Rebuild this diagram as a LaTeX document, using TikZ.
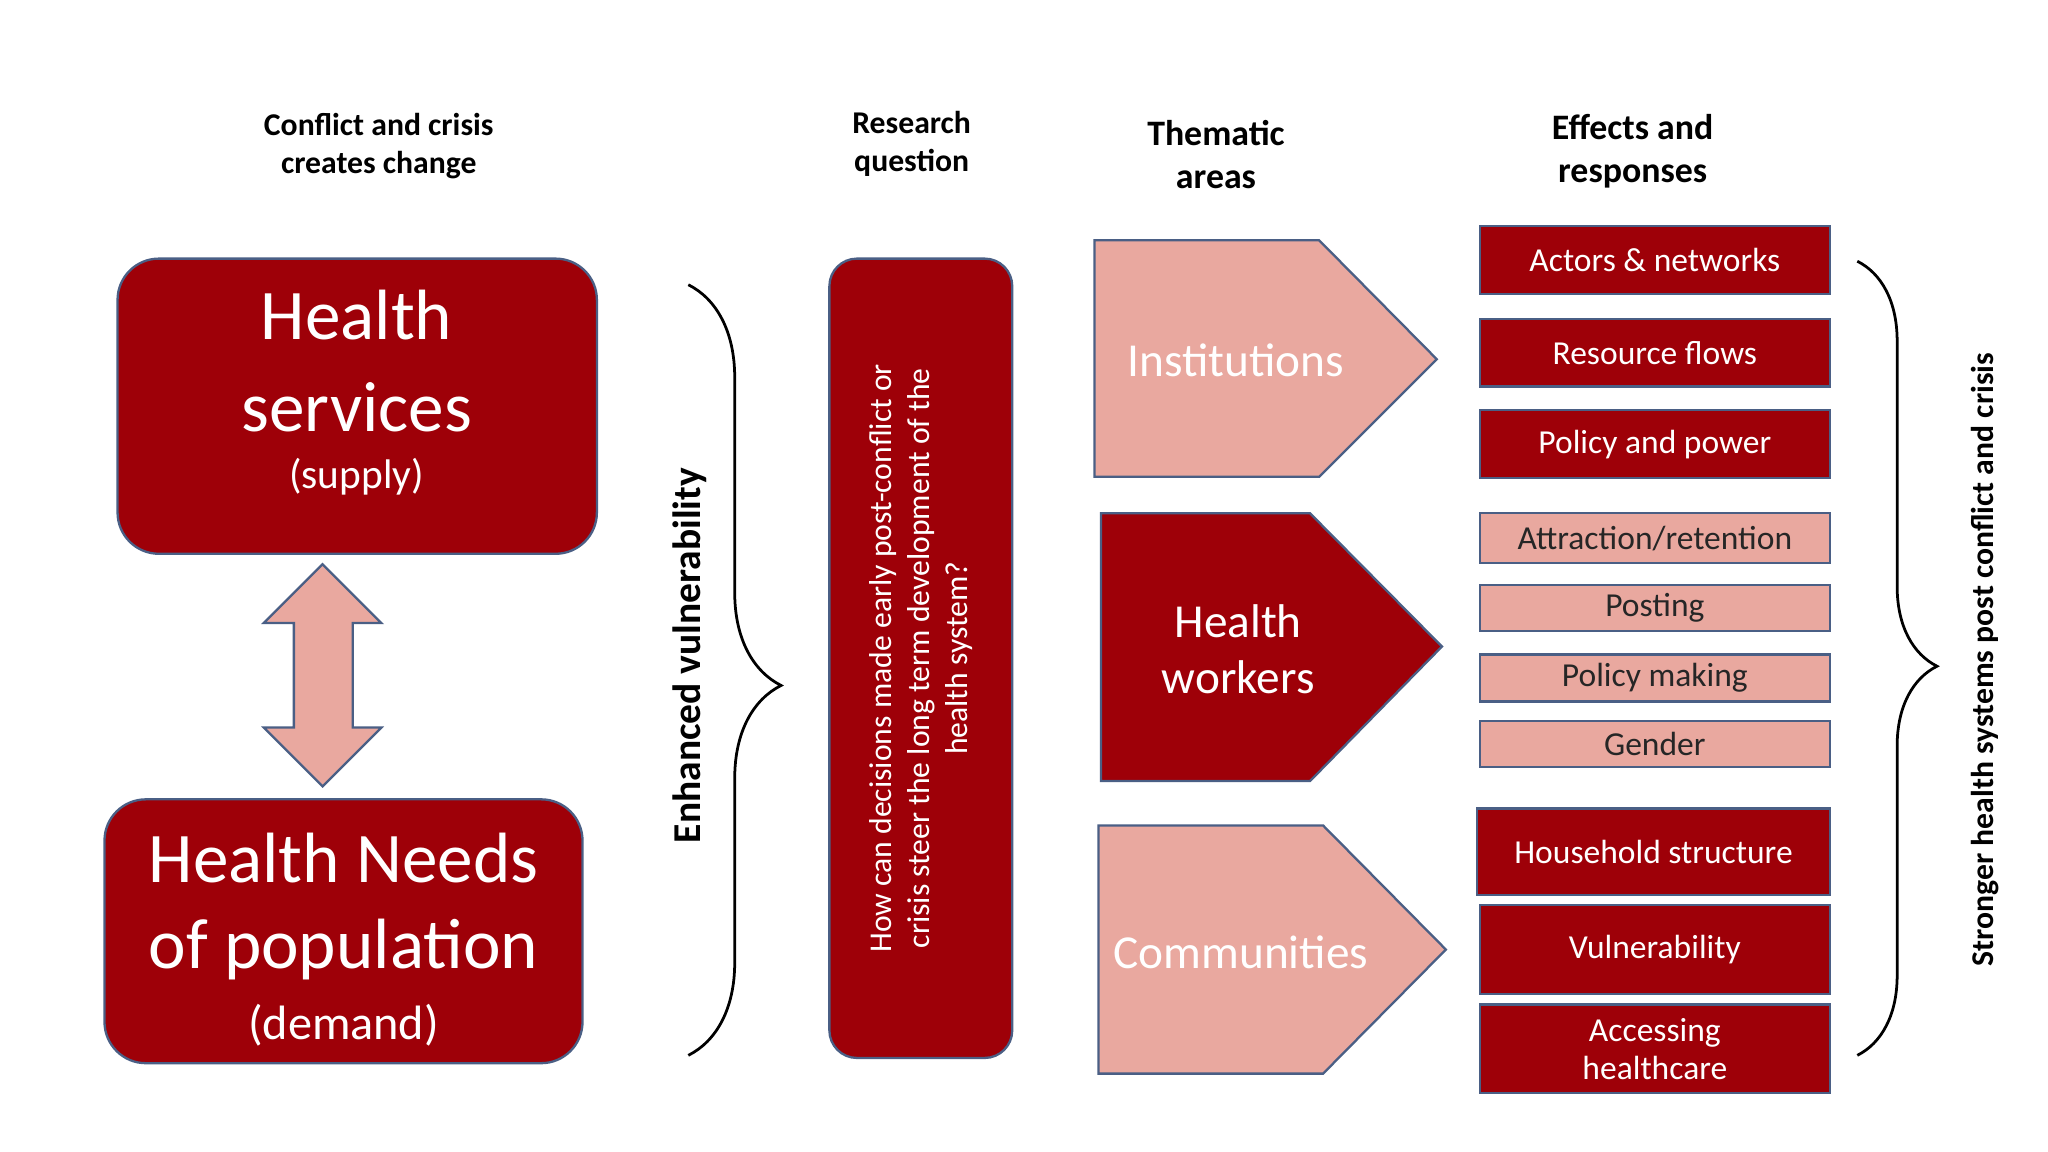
\documentclass[tikz,border=0pt]{standalone}
\usepackage{fontspec}
\setmainfont{Carlito}
\usetikzlibrary{decorations.pathreplacing}
\definecolor{dred}{HTML}{9E0008}
\definecolor{pinkf}{HTML}{E9A89F}
\definecolor{edge}{HTML}{4A5F85}
\newcommand{\fs}[1]{\fontsize{#1pt}{1.2\dimexpr#1pt\relax}\selectfont}
\tikzset{
 hdr/.style={font=\fs{6.9}\bfseries, align=center},
 bigbox/.style={draw=edge, fill=dred, rounded corners=9pt, line width=0.5pt},
 dbox/.style={draw=edge, fill=dred, line width=0.5pt, text=white, font=\fs{7.3}},
 pbox/.style={draw=edge, fill=pinkf, line width=0.5pt, text=black!85, font=\fs{7.3}},
 brc/.style={decorate, line width=0.6pt},
}
\begin{document}
\begin{tikzpicture}[x=0.01cm,y=-0.01cm]
\useasboundingbox[fill=white] (0,0) rectangle (1568,882);
% headers
\node[hdr] (h1) at (290,112) {Conflict and crisis\\creates change};
\node[hdr] (h2) at (698,110) {Research\\question};
\node[hdr,font=\fs{7.8}\bfseries] (h3) at (931,118) {Thematic\\areas};
\node[hdr,font=\fs{7.8}\bfseries] (h4) at (1250,116) {Effects and\\responses};
% left boxes
\draw[bigbox] (90,198) rectangle (457,424);
\node[text=white,font=\fs{15.5}] (hs1) at (273,241) {Health};
\node[text=white,font=\fs{15.5}] (hs2) at (273,312) {services};
\node[text=white,font=\fs{9}] (hs3) at (273,365) {(supply)};
\draw[bigbox] (80,612) rectangle (446,814);
\node[text=white,font=\fs{15.5}] (hn1) at (263,657) {Health Needs};
\node[text=white,font=\fs{15.5}] (hn2) at (263,727) {of population};
\node[text=white,font=\fs{10.5}] (hn3) at (263,785) {(demand)};
% double arrow
\draw[draw=edge, fill=pinkf, line width=0.5pt] (247,432) -- (292,477) -- (270,477) -- (270,557) -- (292,557) -- (247,602) -- (202,557) -- (225,557) -- (225,477) -- (202,477) -- cycle;
% left brace
\draw[brc, decoration={brace, amplitude=0.71cm, aspect=0.52}] (527,218) -- (527,808);
\node[rotate=90, font=\fs{8.6}\bfseries] (ev) at (528,502) {Enhanced vulnerability};
% research question
\draw[bigbox, rounded corners=6pt] (635,198) rectangle (775,810);
\node[rotate=90, text=white, font=\fs{6.9}, align=center] (rq) at (705,504) {How can decisions made early post-conflict or\\crisis steer the long term development of the\\health system?};
% pentagons
\draw[draw=edge, fill=pinkf, line width=0.5pt] (838,184) -- (1010,184) -- (1100,275) -- (1010,365) -- (838,365) -- cycle;
\node[text=white, font=\fs{10.3}] (inst) at (946,276) {Institutions};
\draw[draw=edge, fill=dred, line width=0.5pt] (843,393) -- (1003,393) -- (1104,495) -- (1003,598) -- (843,598) -- cycle;
\node[text=white, font=\fs{10.3}, align=center] (hw) at (948,497) {Health\\workers};
\draw[draw=edge, fill=pinkf, line width=0.5pt] (841,632) -- (1013,632) -- (1107,727) -- (1013,822) -- (841,822) -- cycle;
\node[text=white, font=\fs{10.3}] (com) at (950,729) {Communities};
% right boxes
\path[dbox] (1133,173) rectangle (1401,225) node[midway] (r1) {Actors \& networks};
\path[dbox] (1133,244) rectangle (1401,296) node[midway] (r2) {Resource flows};
\path[dbox] (1133,314) rectangle (1401,366) node[midway] (r3) {Policy and power};
\path[pbox] (1133,393) rectangle (1401,431) node[midway] (r4) {Attraction/retention};
\path[pbox] (1133,448) rectangle (1401,483) node[midway] (r5) {Posting};
\path[pbox] (1133,501) rectangle (1401,537) node[midway] (r6) {Policy making};
\path[pbox] (1133,552) rectangle (1401,587) node[midway] (r7) {Gender};
\path[dbox] (1131,619) rectangle (1401,685) node[midway] (r8) {Household structure};
\path[dbox] (1133,693) rectangle (1401,761) node[midway] (r9) {Vulnerability};
\path[dbox] (1133,769) rectangle (1401,837) node[midway, align=center, font=\fs{7.3}\linespread{0.95}\selectfont] (r10) {Accessing\\healthcare};
% right brace
\draw[brc, decoration={brace, amplitude=0.61cm, aspect=0.51}] (1422,200) -- (1422,808);
\node[rotate=90, font=\fs{6.9}\bfseries] (sh) at (1520,505) {Stronger health systems post conflict and crisis};
\end{tikzpicture}
\end{document}
